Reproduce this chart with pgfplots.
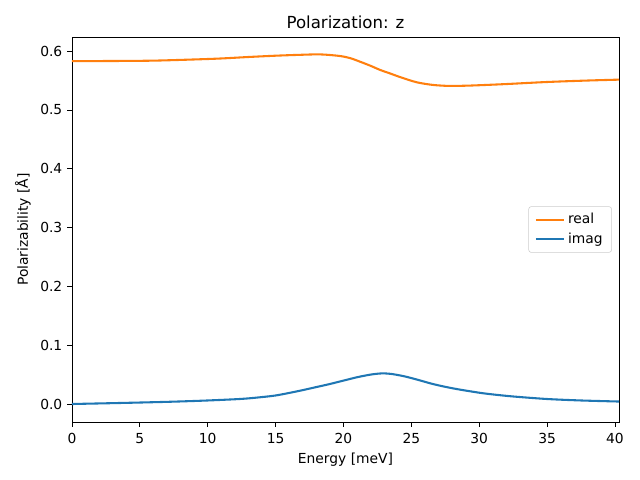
\documentclass[border=0pt]{standalone}
\usepackage{fontspec}
\setmainfont{DejaVu Sans}
\usepackage{pgfplots}
\pgfplotsset{compat=1.18}
\definecolor{mplorange}{HTML}{FF7F0E}
\definecolor{mplblue}{HTML}{1F77B4}
\begin{document}
\begin{tikzpicture}
\useasboundingbox (-0.72in,-0.58in) rectangle (5.68in,4.22in);
\begin{axis}[
    at={(0,0)}, anchor=south west,
    scale only axis,
    width=5.47in, height=3.85in,
    xmin=0, xmax=40.3,
    ymin=-0.0306, ymax=0.624,
    xtick={0,5,...,40},
    ytick={0,0.1,...,0.6},
    xtick pos=bottom, ytick pos=left,
    yticklabel style={/pgf/number format/.cd, fixed, fixed zerofill, precision=1},
    /pgf/number format/assume math mode=true,
    tick align=outside,
    major tick length=3.5pt,
    tick style={black, line width=0.6pt},
    axis line style={line width=0.6pt},
    ticklabel style={font=\fontsize{10}{12}\selectfont},
    xticklabel style={yshift=-1pt},
    title={Polarization: z},
    title style={font=\fontsize{12}{14}\selectfont, yshift=-3.5pt},
    xlabel={Energy [meV]},
    ylabel={Polarizability [Å]},
    label style={font=\fontsize{10}{12}\selectfont},
    legend style={at={(0.987,0.5)}, anchor=east, draw=black!20, rounded corners=2pt,
        font=\fontsize{10}{12}\selectfont, inner xsep=4.5pt, inner ysep=3pt, row sep=1pt},
    legend cell align=left,
    legend image code/.code={\draw[#1] (0cm,0cm) -- (0.72cm,0cm);},
]
\addplot[mplorange, line width=1.5pt, smooth] coordinates {
    (0,0.583) (3,0.5832) (6,0.5838) (9,0.5858) (11,0.5875) (13,0.5900)
    (15,0.5922) (16.8,0.5937) (18.3,0.5944) (19.7,0.5918) (20.5,0.5880)
    (21.2,0.5822) (22,0.5750) (22.7,0.5680) (23.5,0.5615) (24.2,0.5556)
    (25.4,0.5470) (26.6,0.5425) (27.8,0.5408) (29,0.5412) (30,0.5420)
    (32,0.5440) (35,0.5475) (38,0.5500) (40.3,0.5515)
};
\addlegendentry{real}
\addplot[mplblue, line width=1.5pt, smooth] coordinates {
    (0,0.000) (2.5,0.0012) (5,0.0025) (7.5,0.0040) (10,0.0060) (12.5,0.0087)
    (14,0.0118) (15,0.0145) (16,0.0188) (17,0.0236) (18,0.0288) (19,0.0340)
    (20,0.0398) (21,0.0455) (22,0.0500) (22.8,0.0520) (23.5,0.0512)
    (24.5,0.0470) (25.5,0.0410) (26.5,0.0345) (27.5,0.0292) (28.5,0.0248)
    (30,0.0192) (31,0.0163) (32.5,0.0128) (35,0.0085) (37.5,0.0060) (40.3,0.0042)
};
\addlegendentry{imag}
\end{axis}
\end{tikzpicture}
\end{document}
